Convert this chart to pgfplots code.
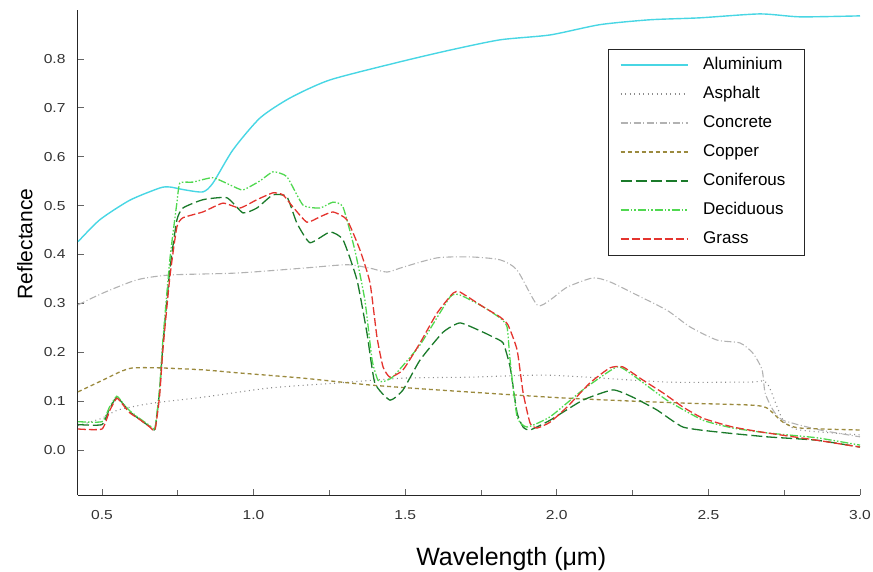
\documentclass[border=0pt]{standalone}
\usepackage{fontspec}
\setmainfont{Liberation Sans}
\usepackage{graphicx}
\usepackage{pgfplots}
\usepackage{pgfplotstable}
\pgfplotsset{compat=1.18}
\definecolor{alu}{RGB}{72,214,228}
\definecolor{asph}{RGB}{140,140,140}
\definecolor{conc}{RGB}{178,178,178}
\definecolor{copp}{RGB}{155,138,62}
\definecolor{conif}{RGB}{26,122,42}
\definecolor{decid}{RGB}{80,216,80}
\definecolor{grass}{RGB}{228,52,46}

\pgfplotstableread{
x y
0.421 0.426
0.493 0.471
0.592 0.511
0.691 0.536
0.724 0.538
0.774 0.532
0.833 0.528
0.866 0.546
0.932 0.614
1.021 0.679
1.120 0.720
1.252 0.757
1.483 0.794
1.648 0.818
1.813 0.839
1.978 0.849
2.142 0.870
2.307 0.880
2.472 0.884
2.670 0.892
2.802 0.886
3.0 0.888
}\alum

\pgfplotstableread{
x y
0.421 0.050
0.500 0.065
0.553 0.082
0.668 0.096
0.833 0.108
1.054 0.127
1.275 0.137
1.493 0.147
1.714 0.149
1.978 0.153
2.363 0.139
2.637 0.139
2.693 0.137
2.746 0.061
2.802 0.041
3.0 0.031
}\asphalt

\pgfplotstableread{
x y
0.421 0.297
0.503 0.321
0.615 0.348
0.724 0.358
0.945 0.362
1.163 0.372
1.308 0.379
1.384 0.372
1.440 0.364
1.493 0.374
1.605 0.393
1.714 0.395
1.813 0.389
1.869 0.368
1.935 0.297
1.978 0.307
2.034 0.333
2.119 0.352
2.175 0.344
2.251 0.321
2.363 0.286
2.439 0.252
2.528 0.225
2.604 0.219
2.647 0.198
2.677 0.164
2.687 0.117
2.713 0.082
2.746 0.061
2.868 0.041
3.0 0.027
}\concrete

\pgfplotstableread{
x y
0.421 0.119
0.503 0.143
0.560 0.160
0.602 0.168
0.691 0.168
0.833 0.164
0.945 0.158
1.163 0.147
1.384 0.133
1.605 0.123
1.978 0.108
2.175 0.102
2.416 0.096
2.637 0.092
2.693 0.086
2.746 0.057
2.802 0.045
3.0 0.041
}\copper

\pgfplotstableread{
x y
0.421 0.052
0.500 0.052
0.525 0.085
0.549 0.108
0.570 0.094
0.592 0.078
0.630 0.060
0.658 0.048
0.675 0.043
0.690 0.120
0.701 0.215
0.724 0.370
0.747 0.470
0.767 0.495
0.833 0.512
0.912 0.516
0.965 0.485
1.011 0.495
1.064 0.522
1.110 0.518
1.143 0.464
1.186 0.424
1.252 0.446
1.295 0.430
1.341 0.348
1.374 0.239
1.400 0.137
1.450 0.102
1.493 0.123
1.549 0.184
1.625 0.241
1.681 0.260
1.757 0.241
1.790 0.231
1.823 0.219
1.846 0.170
1.869 0.076
1.889 0.047
1.912 0.041
1.978 0.061
2.086 0.102
2.185 0.123
2.251 0.108
2.330 0.082
2.416 0.047
2.528 0.037
2.693 0.027
2.858 0.020
3.0 0.006
}\conifer

\pgfplotstableread{
x y
0.421 0.058
0.500 0.058
0.525 0.088
0.549 0.110
0.570 0.095
0.592 0.080
0.630 0.062
0.658 0.050
0.675 0.045
0.690 0.125
0.701 0.225
0.724 0.390
0.747 0.505
0.757 0.546
0.800 0.548
0.866 0.557
0.930 0.540
0.965 0.532
1.020 0.550
1.064 0.569
1.110 0.559
1.163 0.501
1.219 0.495
1.262 0.507
1.295 0.497
1.334 0.409
1.367 0.307
1.391 0.184
1.410 0.143
1.427 0.140
1.460 0.150
1.549 0.215
1.648 0.313
1.681 0.317
1.757 0.293
1.813 0.270
1.836 0.252
1.846 0.184
1.869 0.068
1.902 0.047
1.978 0.068
2.086 0.123
2.198 0.170
2.251 0.153
2.363 0.102
2.482 0.061
2.581 0.045
2.693 0.035
2.858 0.025
3.0 0.010
}\decid

\pgfplotstableread{
x y
0.421 0.043
0.500 0.043
0.525 0.080
0.549 0.106
0.570 0.092
0.592 0.076
0.630 0.060
0.658 0.047
0.675 0.041
0.690 0.110
0.701 0.205
0.724 0.354
0.747 0.456
0.767 0.475
0.833 0.487
0.899 0.505
0.955 0.495
1.011 0.512
1.064 0.526
1.097 0.522
1.130 0.497
1.176 0.466
1.219 0.477
1.262 0.487
1.308 0.471
1.351 0.409
1.384 0.342
1.407 0.231
1.427 0.170
1.450 0.149
1.493 0.164
1.549 0.219
1.605 0.280
1.658 0.321
1.681 0.323
1.757 0.293
1.813 0.272
1.839 0.256
1.869 0.205
1.889 0.117
1.912 0.055
1.935 0.045
1.978 0.057
2.034 0.088
2.109 0.137
2.175 0.168
2.218 0.170
2.284 0.143
2.350 0.117
2.416 0.088
2.482 0.065
2.581 0.047
2.693 0.035
2.858 0.020
3.0 0.006
}\grass

\begin{document}
\begin{tikzpicture}
\useasboundingbox (-78pt,-76pt) rectangle (795pt,495pt);
\begin{axis}[
  at={(0pt,0pt)}, anchor=south west,
  scale only axis, width=782pt, height=485pt,
  xmin=0.421, xmax=3.0, ymin=-0.092, ymax=0.9,
  axis x line*=bottom, axis y line*=left,
  axis line style={-, line width=1pt, black!85},
  xtick={0.5,1.0,1.5,2.0,2.5,3.0},
  minor xtick={0.75,1.25,1.75,2.25,2.75},
  ytick={0,0.1,0.2,0.3,0.4,0.5,0.6,0.7,0.8},
  tick align=inside,
  major tick length=6pt, minor tick length=5pt,
  every tick/.style={black!60, line width=0.6pt},
  /pgf/number format/fixed,
  /pgf/number format/fixed zerofill,
  /pgf/number format/precision=1,
  /pgf/number format/assume math mode=true,
  xticklabel={\scalebox{1.2}[1]{\pgfmathprintnumber{\tick}}},
  yticklabel={\scalebox{1.2}[1]{\pgfmathprintnumber{\tick}}},
  xticklabel style={font=\fontsize{13}{15}\selectfont, text=black!80, yshift=-12pt},
  yticklabel style={font=\fontsize{13}{15}\selectfont, text=black!80, xshift=-9pt},
  xlabel={Wavelength (μm)},
  xlabel style={font=\fontsize{25}{28}\selectfont, at={(axis description cs:0.554,0)}, anchor=base, yshift=-70pt},
  ylabel={Reflectance},
  ylabel style={font=\fontsize{21}{24}\selectfont, at={(axis description cs:-0.068,0.5175)}, anchor=center},
  no markers,
  legend cell align=left,
  legend image code/.code={\draw[#1, line width=2.2pt, opacity=1] (0pt,0.5pt) -- (67pt,0.5pt); \path (80pt,0pt);},
  legend style={at={(axis description cs:0.6777,0.9196)}, anchor=north west,
    draw=black!85, line width=0.9pt, fill=white,
    font=\fontsize{17}{19}\selectfont, row sep=9pt,
    inner xsep=11pt, inner ysep=6pt,
    nodes={inner sep=2pt, text height=12pt, text depth=4pt}},
]
\addplot[alu, line width=1.4pt, smooth, tension=0.4] table {\alum};
\addlegendentry{\makebox[88pt][l]{Aluminium}}
\addplot[asph, line width=1.1pt, dash pattern=on 1pt off 3.5pt, smooth, tension=0.4] table {\asphalt};
\addlegendentry{\makebox[88pt][l]{Asphalt}}
\addplot[conc, line width=1.1pt, dash pattern=on 7pt off 2.5pt on 1pt off 2.5pt, smooth, tension=0.4] table {\concrete};
\addlegendentry{\makebox[88pt][l]{Concrete}}
\addplot[copp, line width=1.3pt, dash pattern=on 4pt off 3pt, smooth, tension=0.4] table {\copper};
\addlegendentry{\makebox[88pt][l]{Copper}}
\addplot[conif, line width=1.3pt, dash pattern=on 11pt off 4pt, smooth, tension=0.3] table {\conifer};
\addlegendentry{\makebox[88pt][l]{Coniferous}}
\addplot[decid, line width=1.3pt, dash pattern=on 8pt off 2pt on 1.5pt off 2pt on 1.5pt off 2pt, smooth, tension=0.3] table {\decid};
\addlegendentry{\makebox[88pt][l]{Deciduous}}
\addplot[grass, line width=1.3pt, dash pattern=on 8pt off 3pt, smooth, tension=0.3] table {\grass};
\addlegendentry{\makebox[88pt][l]{Grass}}
\end{axis}
\end{tikzpicture}
\end{document}
